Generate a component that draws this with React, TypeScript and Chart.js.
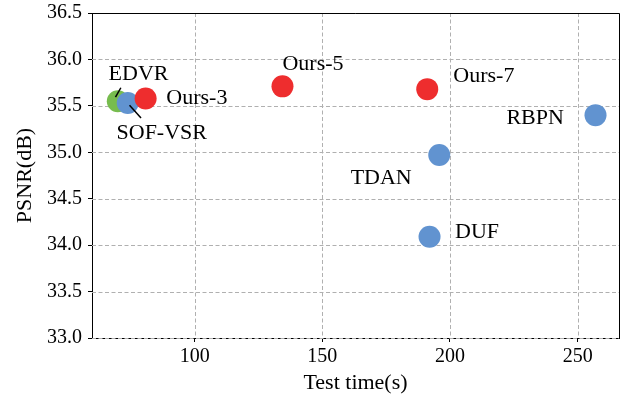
import React, { useEffect, useRef } from "react";
import { Chart, registerables } from "chart.js";

Chart.register(...registerables);

// Runtime (s) and PSNR (dB) for each method
const edvrTime = [69.9];
const edvrPsnr = [35.55];

const otherNames = ["SOF-VSR", "RBPN", "TDAN", "DUF"];
const otherTime = [73.8, 257.0, 195.8, 192.0];
const otherPsnr = [35.53, 35.4, 34.97, 34.09];

const oursNames = ["Ours-3", "Ours-5", "Ours-7"];
const oursTime = [80.8, 134.4, 191.1];
const oursPsnr = [35.58, 35.71, 35.68];

const xTicks = [100, 150, 200, 250];
const yTicks = [33.0, 33.5, 34.0, 34.5, 35.0, 35.5, 36.0, 36.5];

// Text labels placed in data space (left edge, baseline)
const labelSpots = [
  { text: "EDVR", x: 66.3, y: 35.78 },
  { text: "SOF-VSR", x: 69.4, y: 35.14 },
  { text: "Ours-3", x: 88.9, y: 35.52 },
  { text: "Ours-5", x: 134.4, y: 35.89 },
  { text: "Ours-7", x: 201.3, y: 35.76 },
  { text: "RBPN", x: 222.1, y: 35.3 },
  { text: "TDAN", x: 161.1, y: 34.66 },
  { text: "DUF", x: 202.0, y: 34.08 },
];

// Short leader lines connecting crowded labels to their points
const leaders = [
  { x1: 69.0, y1: 35.593, x2: 71.1, y2: 35.695 },
  { x1: 74.5, y1: 35.507, x2: 79.0, y2: 35.37 },
];

const FONT = "'Liberation Serif', 'Times New Roman', Times, serif";
const RED = "#ee2d2e";
const BLUE = "#6193d0";
const GREEN = "#77bc4e";

const toPoints = (xs: number[], ys: number[]) => xs.map((x, i) => ({ x, y: ys[i] }));

const gridAndLabels = {
  id: "gridAndLabels",
  beforeDatasetsDraw(chart: any) {
    const { ctx, chartArea, scales } = chart;
    const { left, right, top, bottom } = chartArea;
    ctx.save();
    ctx.strokeStyle = "#b0b0b0";
    ctx.lineWidth = 1;
    ctx.setLineDash([4, 2.5]);
    for (const v of xTicks) {
      const px = Math.round(scales.x.getPixelForValue(v)) + 0.5;
      ctx.beginPath();
      ctx.moveTo(px, top);
      ctx.lineTo(px, bottom);
      ctx.stroke();
    }
    for (const v of yTicks) {
      const py = Math.round(scales.y.getPixelForValue(v)) + 0.5;
      ctx.beginPath();
      ctx.moveTo(left, py);
      ctx.lineTo(right, py);
      ctx.stroke();
    }
    ctx.restore();
  },
  afterDatasetsDraw(chart: any) {
    const { ctx, chartArea, scales } = chart;
    const { left, right, top, bottom } = chartArea;
    ctx.save();
    // frame
    ctx.strokeStyle = "#000";
    ctx.lineWidth = 1;
    ctx.setLineDash([]);
    ctx.beginPath();
    ctx.moveTo(left, top + 0.5);
    ctx.lineTo(right + 0.5, top + 0.5);
    ctx.lineTo(right + 0.5, bottom);
    ctx.stroke();
    // leader lines
    ctx.lineWidth = 1.5;
    for (const l of leaders) {
      ctx.beginPath();
      ctx.moveTo(scales.x.getPixelForValue(l.x1), scales.y.getPixelForValue(l.y1));
      ctx.lineTo(scales.x.getPixelForValue(l.x2), scales.y.getPixelForValue(l.y2));
      ctx.stroke();
    }
    // labels
    ctx.fillStyle = "#000";
    ctx.font = `22px ${FONT}`;
    ctx.textAlign = "left";
    ctx.textBaseline = "alphabetic";
    for (const s of labelSpots) {
      ctx.fillText(s.text, scales.x.getPixelForValue(s.x), scales.y.getPixelForValue(s.y));
    }
    ctx.restore();
  },
};

export default function App() {
  const ref = useRef<HTMLCanvasElement | null>(null);

  useEffect(() => {
    if (!ref.current) return;
    const pointStyle = (color: string, order: number) => ({
      backgroundColor: color,
      borderColor: color,
      borderWidth: 0,
      pointRadius: 11,
      pointHoverRadius: 11,
      showLine: false,
      clip: false as const,
      order,
    });
    const chart = new Chart(ref.current, {
      type: "scatter",
      data: {
        datasets: [
          { label: "EDVR", data: toPoints(edvrTime, edvrPsnr), ...pointStyle(GREEN, 3) },
          { label: otherNames.join(", "), data: toPoints(otherTime, otherPsnr), ...pointStyle(BLUE, 2) },
          { label: oursNames.join(", "), data: toPoints(oursTime, oursPsnr), ...pointStyle(RED, 1) },
        ],
      },
      options: {
        animation: false,
        responsive: false,
        maintainAspectRatio: false,
        events: [],
        layout: { autoPadding: false, padding: { top: 13, right: 2, left: 0, bottom: 0 } },
        plugins: { legend: { display: false }, tooltip: { enabled: false } },
        scales: {
          x: {
            type: "linear",
            min: 59.8,
            max: 266.2,
            afterBuildTicks: (scale: any) => {
              scale.ticks = xTicks.map((value) => ({ value }));
            },
            afterFit: (scale: any) => {
              scale.height = 58;
              scale.paddingLeft = 0;
              scale.paddingRight = 0;
            },
            grid: { drawOnChartArea: false, drawTicks: true, tickLength: 4, tickColor: "#000", tickWidth: 1 },
            border: { display: true, color: "#000", width: 1 },
            ticks: {
              color: "#000",
              padding: 3,
              maxRotation: 0,
              font: { family: FONT, size: 20 },
            },
            title: {
              display: true,
              text: "Test time(s)",
              color: "#000",
              padding: { top: 0, bottom: 0 },
              font: { family: FONT, size: 22 },
            },
          },
          y: {
            type: "linear",
            min: 33,
            max: 36.5,
            afterBuildTicks: (scale: any) => {
              scale.ticks = yTicks.map((value) => ({ value }));
            },
            afterFit: (scale: any) => {
              scale.width = 92;
              scale.paddingTop = 0;
              scale.paddingBottom = 0;
            },
            grid: { drawOnChartArea: false, drawTicks: true, tickLength: 4, tickColor: "#000", tickWidth: 1 },
            border: { display: true, color: "#000", width: 1 },
            ticks: {
              color: "#000",
              padding: 6,
              font: { family: FONT, size: 20 },
              callback: (v: any) => Number(v).toFixed(1),
            },
            title: {
              display: true,
              text: "PSNR(dB)",
              color: "#000",
              padding: { top: 12, bottom: 4 },
              font: { family: FONT, size: 22 },
            },
          },
        },
      },
      plugins: [gridAndLabels],
    });
    return () => chart.destroy();
  }, []);

  return (
    <div style={{ position: "fixed", left: 0, top: 0, width: 621, height: 396, background: "#fff" }}>
      <canvas ref={ref} width={621} height={396} style={{ display: "block" }} />
    </div>
  );
}
